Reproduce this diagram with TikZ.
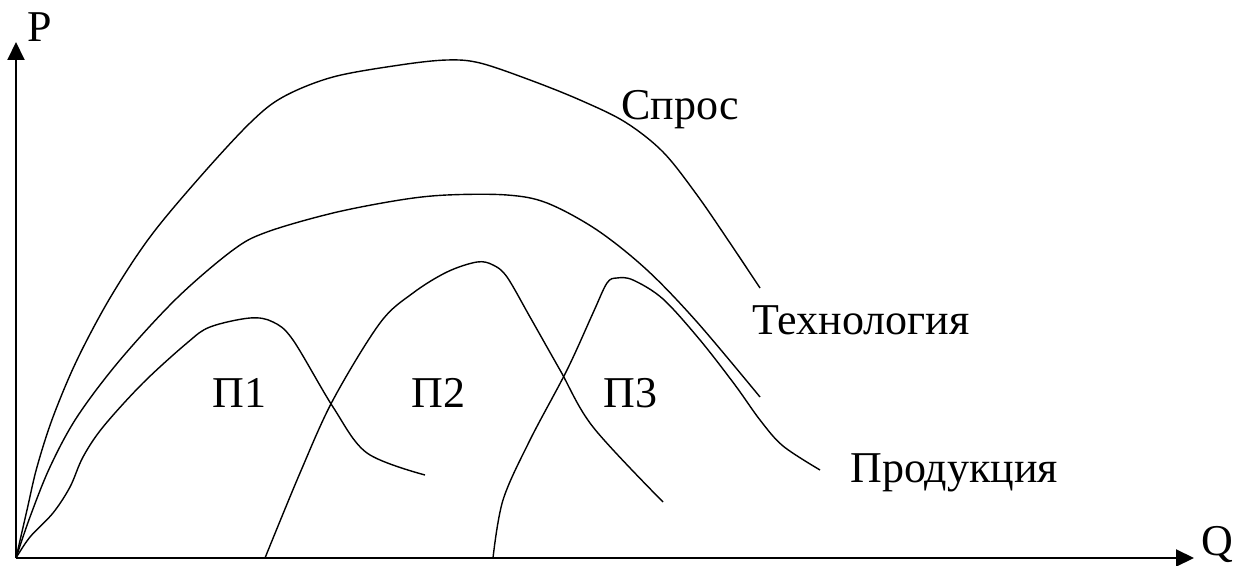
\documentclass[tikz,border=0pt]{standalone}
\usepackage{fontspec}
\setmainfont{Liberation Serif}
\usetikzlibrary{arrows.meta}
\tikzset{
  axis/.style={line width=1pt, -{Triangle[length=9pt, width=8.5pt]}},
  curve/.style={line width=0.7pt, smooth, tension=0.55},
  lbl/.style={anchor=base west, inner sep=0pt}
}

\begin{document}
\begin{tikzpicture}[x=0.5pt, y=-0.5pt, font=\fontsize{22}{26}\selectfont]
  \useasboundingbox (0,0) rectangle (1235,566);
  % axes
  \coordinate (O) at (16,558);
  \coordinate (Ptip) at (16,42);
  \coordinate (Qtip) at (1194,558);
  \draw[axis] (O) -- (Ptip);
  \draw[axis] (O) -- (Qtip);
  \node[lbl] (P) at (27,42) {P};
  \node[lbl] (Q) at (1201,555) {Q};
  % outer curves
  \draw[curve] plot coordinates {(16,558) (27,510) (37,467) (53,417) (77,360)
    (110,298) (150,237) (200,177) (250,123) (283,97) (333,77) (400,65)
    (447,60) (480,63) (530,80) (580,100) (625,122) (663,152) (697,195)
    (730,243) (760,288)};
  \draw[curve] plot coordinates {(16,558) (30,517) (50,467) (77,417) (120,360)
    (177,298) (233,250) (267,232) (333,213) (400,200) (447,195) (507,195)
    (547,203) (597,230) (647,270) (697,322) (760,397)};
  % product curves
  \draw[curve] plot coordinates {(16,558) (30,537) (53,513) (70,487) (83,457)
    (103,427) (143,383) (187,343) (210,327) (250,318) (273,322) (293,340)
    (333,407) (367,453) (425,475)};
  \draw[curve] plot coordinates {(265,558) (300,473) (333,400) (380,323)
    (413,293) (447,272) (477,262) (493,265) (507,277) (530,317) (560,370)
    (593,427) (663,502)};
  \draw[curve] plot coordinates {(493,558) (503,500) (530,440) (567,370)
    (593,313) (607,283) (617,278) (633,280) (663,299) (700,340) (735,385)
    (760,420) (783,446) (820,470)};
  % labels
  \node[lbl] (spros) at (621,120) {Спрос};
  \node[lbl] (tech) at (752,335) {Технология};
  \node[lbl] (prod) at (850,482) {Продукция};
  \node[lbl] (p1) at (212,407) {П1};
  \node[lbl] (p2) at (411,407) {П2};
  \node[lbl] (p3) at (603,407) {П3};
\end{tikzpicture}
\end{document}
